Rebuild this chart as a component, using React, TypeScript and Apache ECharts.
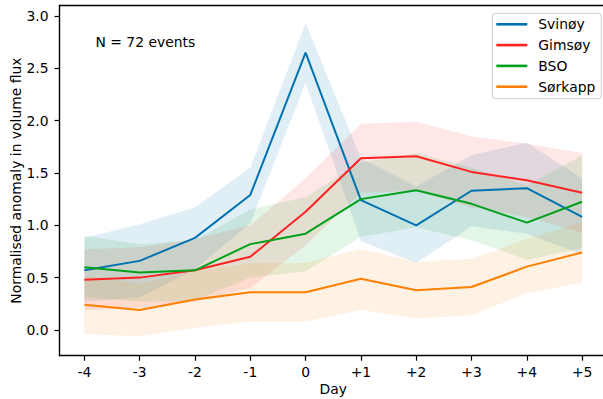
import React, { useEffect, useRef } from 'react';
import * as echarts from 'echarts';

const days = [-4, -3, -2, -1, 0, 1, 2, 3, 4, 5];
const dayLabels = ['-4', '-3', '-2', '-1', '0', '+1', '+2', '+3', '+4', '+5'];
const yTicks = [0, 0.5, 1.0, 1.5, 2.0, 2.5, 3.0];

const svinoy = [0.57, 0.66, 0.88, 1.29, 2.65, 1.24, 1.0, 1.33, 1.355, 1.08];
const svinoyLo = [0.27, 0.31, 0.58, 1.02, 2.36, 0.85, 0.64, 0.99, 0.92, 0.72];
const svinoyHi = [0.88, 1.01, 1.17, 1.55, 2.93, 1.64, 1.37, 1.67, 1.79, 1.45];

const gimsoy = [0.48, 0.5, 0.57, 0.7, 1.13, 1.64, 1.66, 1.51, 1.43, 1.31];
const gimsoyLo = [0.19, 0.21, 0.27, 0.4, 0.81, 1.31, 1.33, 1.17, 1.08, 0.93];
const gimsoyHi = [0.77, 0.79, 0.87, 1.0, 1.45, 1.97, 1.99, 1.85, 1.78, 1.69];

const bso = [0.6, 0.55, 0.57, 0.82, 0.92, 1.25, 1.335, 1.205, 1.025, 1.225];
const bsoLo = [0.31, 0.27, 0.28, 0.5, 0.56, 0.89, 0.98, 0.86, 0.67, 0.78];
const bsoHi = [0.9, 0.82, 0.86, 1.15, 1.27, 1.6, 1.69, 1.55, 1.38, 1.67];

const sorkapp = [0.24, 0.19, 0.29, 0.36, 0.36, 0.49, 0.38, 0.41, 0.605, 0.74];
const sorkappLo = [-0.04, -0.06, 0.02, 0.08, 0.08, 0.19, 0.11, 0.14, 0.35, 0.45];
const sorkappHi = [0.52, 0.44, 0.56, 0.64, 0.64, 0.77, 0.65, 0.68, 0.87, 1.03];

const seriesNames = ['Svinøy', 'Gimsøy', 'BSO', 'Sørkapp'];
const colors = ['#0072b2', '#ff2222', '#00a01a', '#ff8000'];
const bandColors = [
  'rgba(0,114,178,0.12)',
  'rgba(255,34,34,0.11)',
  'rgba(0,160,26,0.11)',
  'rgba(255,128,0,0.11)',
];

const FONT = 'DejaVu Sans';
const FS = 13.9;

function bandSeries(name: string, color: string, lo: number[], hi: number[]) {
  return {
    type: 'custom',
    name: name + ' band',
    data: days.map((d, i) => [d, lo[i], hi[i]]),
    encode: { x: 0, y: [1, 2] },
    z: 1,
    silent: true,
    renderItem: (params: any, api: any) => {
      if (params.dataIndex !== 0) return { type: 'group', children: [] };
      const top = days.map((d, i) => api.coord([d, hi[i]]));
      const bot = days.map((d, i) => api.coord([d, lo[i]])).reverse();
      return {
        type: 'polygon',
        shape: { points: [...top, ...bot] },
        style: { fill: color, stroke: 'none' },
      };
    },
  };
}

function lineSeries(name: string, color: string, vals: number[]) {
  return {
    type: 'line',
    name,
    data: days.map((d, i) => [d, vals[i]]),
    symbol: 'none',
    showSymbol: false,
    z: 3,
    color,
    lineStyle: { color, width: 2 },
    itemStyle: { color },
  };
}

export default function App() {
  const ref = useRef<HTMLDivElement>(null);
  useEffect(() => {
    const chart = echarts.init(ref.current!, null, { renderer: 'svg' });
    const vals = [svinoy, gimsoy, bso, sorkapp];
    const los = [svinoyLo, gimsoyLo, bsoLo, sorkappLo];
    const his = [svinoyHi, gimsoyHi, bsoHi, sorkappHi];
    const series: any[] = [];
    seriesNames.forEach((n, i) => series.push(bandSeries(n, bandColors[i], los[i], his[i])));
    seriesNames.forEach((n, i) => series.push(lineSeries(n, colors[i], vals[i])));
    const axisLineStyle = { color: '#000', width: 1.4 };
    chart.setOption({
      animation: false,
      backgroundColor: '#ffffff',
      textStyle: { fontFamily: FONT },
      grid: {
        left: 59.5,
        top: 5.5,
        width: 547.5,
        height: 350.2,
        show: false,
        outerBoundsMode: 'none',
        containLabel: false,
      },
      xAxis: [
        {
          type: 'value',
          min: -4.45,
          max: 5.45,
          splitLine: { show: false },
          axisLine: { show: true, onZero: false, lineStyle: axisLineStyle },
          axisTick: {
            show: true,
            customValues: days,
            length: 5,
            lineStyle: { color: '#000', width: 1.2 },
          },
          axisLabel: {
            customValues: days,
            formatter: (v: number) => dayLabels[days.indexOf(Math.round(v))],
            color: '#000',
            fontFamily: FONT,
            fontSize: FS,
            margin: 9,
          },
          name: 'Day',
          nameLocation: 'middle',
          nameGap: 26,
          nameMoveOverlap: false,
          nameTextStyle: { color: '#000', fontFamily: FONT, fontSize: FS },
        },
        {
          type: 'value',
          position: 'top',
          min: -4.45,
          max: 5.45,
          splitLine: { show: false },
          axisLine: { show: true, onZero: false, lineStyle: axisLineStyle },
          axisTick: { show: false },
          axisLabel: { show: false },
        },
      ],
      yAxis: {
        type: 'value',
        min: -0.246,
        max: 3.1,
        splitLine: { show: false },
        axisLine: { show: true, onZero: false, lineStyle: axisLineStyle },
        axisTick: {
          show: true,
          customValues: yTicks,
          length: 5,
          lineStyle: { color: '#000', width: 1.2 },
        },
        axisLabel: {
          customValues: yTicks,
          formatter: (v: number) => v.toFixed(1),
          color: '#000',
          fontFamily: FONT,
          fontSize: FS,
          margin: 11,
        },
        name: 'Normalised anomaly in volume flux',
        nameLocation: 'middle',
        nameRotate: 90,
        nameGap: 37,
        nameMoveOverlap: false,
        nameTextStyle: { color: '#000', fontFamily: FONT, fontSize: FS },
      },
      legend: {
        data: seriesNames,
        orient: 'vertical',
        left: 492.3,
        top: 13.3,
        icon: 'rect',
        itemWidth: 31,
        itemHeight: 2.6,
        itemGap: 6.8,
        padding: [4, 6, 5, 4],
        borderColor: '#cccccc',
        borderWidth: 1,
        borderRadius: 3,
        backgroundColor: 'rgba(255,255,255,0.8)',
        textStyle: { color: '#000', fontFamily: FONT, fontSize: FS, padding: [0, 0, 0, 6] },
      },
      graphic: [
        {
          type: 'text',
          left: 95.5,
          top: 35,
          style: { text: 'N = 72 events', fill: '#000', font: `${FS}px "${FONT}"` },
        },
      ],
      series,
    });
    return () => chart.dispose();
  }, []);
  return (
    <div
      style={{
        position: 'fixed',
        left: 0,
        top: 0,
        width: 603,
        height: 399,
        overflow: 'hidden',
        background: '#fff',
      }}
    >
      <div ref={ref} style={{ width: 625, height: 399 }} />
    </div>
  );
}
